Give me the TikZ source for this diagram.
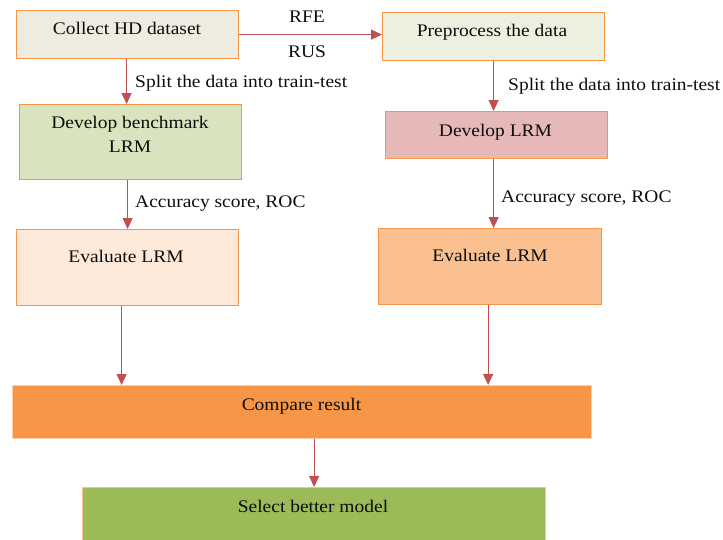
\documentclass[tikz,border=0pt]{standalone}
\usepackage{fontspec}
\setmainfont[FakeStretch=1.1]{Liberation Serif}
\usetikzlibrary{arrows.meta}
\definecolor{bordc}{HTML}{F79646}
\definecolor{bordl}{HTML}{FBCFA8}
\definecolor{arrc}{HTML}{C0504D}
\definecolor{fcollect}{HTML}{EEECE1}
\definecolor{fprep}{HTML}{EBF1DE}
\definecolor{fbench}{HTML}{D7E4BD}
\definecolor{fdev}{HTML}{E6B9B8}
\definecolor{fevall}{HTML}{FDE9D9}
\definecolor{fevalr}{HTML}{FAC090}
\definecolor{fcmp}{HTML}{F79646}
\definecolor{fsel}{HTML}{9BBB59}
\tikzset{
  box/.style={draw=bordc, line width=1.2pt, rectangle, anchor=north west, inner sep=0pt},
  txt/.style={font=\fontsize{17.7}{21}\selectfont, text=black!95, inner sep=0pt, anchor=base},
  lbl/.style={font=\fontsize{17.7}{21}\selectfont, text=black!95, inner sep=0pt, anchor=base west},
  arr/.style={draw=arrc, line width=1.1pt, -{Triangle[width=10pt,length=11pt]}}
}
\begin{document}
\begin{tikzpicture}[x=1pt,y=-1pt]
\useasboundingbox (0,0) rectangle (723,539);
% boxes
\node[box, fill=fcollect, minimum width=222pt, minimum height=48pt] (collect) at (16,10) {};
\node[box, fill=fprep, minimum width=222pt, minimum height=48pt] (prep) at (382,12) {};
\node[box, fill=fbench, minimum width=222pt, minimum height=75pt] (bench) at (19,104) {};
\node[box, fill=fdev, minimum width=222pt, minimum height=47pt] (dev) at (385,111) {};
\node[box, fill=fevall, minimum width=222pt, minimum height=76pt] (evall) at (16,229) {};
\node[box, fill=fevalr, minimum width=223pt, minimum height=76pt] (evalr) at (378,228) {};
\node[box, draw=bordl, fill=fcmp, minimum width=579pt, minimum height=53pt] (cmp) at (12,385) {};
\node[box, draw=fevalr, fill=fsel, minimum width=463pt, minimum height=60pt] (sel) at (82,487) {};
% box texts
\node[txt] (tcollect) at (127,34) {Collect HD dataset};
\node[txt] (tprep) at (492,36) {Preprocess the data};
\node[txt] (tbench1) at (130,128) {Develop benchmark};
\node[txt] (tbench2) at (130,152) {LRM};
\node[txt] (tdev) at (495.5,136) {Develop LRM};
\node[txt] (tevall) at (126,262) {Evaluate LRM};
\node[txt] (tevalr) at (490,261) {Evaluate LRM};
\node[txt] (tcmp) at (301.5,410) {Compare result};
\node[txt] (tsel) at (313,512) {Select better model};
% connectors
\draw[arr] (collect.east) -- (collect.east -| prep.west);
\draw[arr] ([xshift=-1pt]collect.south) -- ([xshift=-1pt]collect.south |- bench.north);
\draw[arr] (prep.south) -- (prep.south |- dev.north);
\draw[arr] (bench.south -| evall.north) -- (evall.north);
\draw[arr] ([xshift=-3pt]dev.south) -- ([xshift=-3pt]dev.south |- evalr.north);
\draw[arr] ([xshift=-6pt]evall.south) -- ([xshift=-6pt]evall.south |- cmp.north);
\draw[arr] ([xshift=-2pt]evalr.south) -- ([xshift=-2pt]evalr.south |- cmp.north);
\draw[arr] (sel.north |- cmp.south) -- (sel.north);
% connector labels
\node[txt] (rfe) at (307,22) {RFE};
\node[txt] (rus) at (307,57) {RUS};
\node[lbl] (split1) at (135,87) {Split the data into train-test};
\node[lbl] (split2) at (508,90) {Split the data into train-test};
\node[lbl] (acc1) at (135,207) {Accuracy score, ROC};
\node[lbl] (acc2) at (501,202) {Accuracy score, ROC};
\end{tikzpicture}
\end{document}
